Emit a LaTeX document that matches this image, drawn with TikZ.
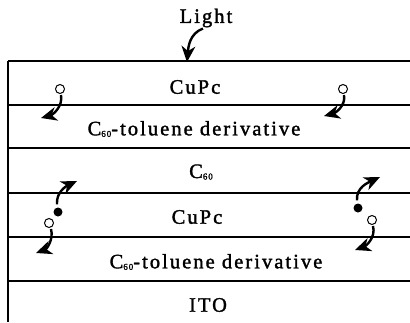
\documentclass[tikz,border=0pt]{standalone}
\usepackage{fontspec}
\setmainfont{Liberation Serif}[FakeBold=1.6]
\newcommand{\subsix}{\raisebox{-1.5pt}{\fontsize{9}{9}\selectfont 60}}
% filled arrow head with its tip at #1, pointing in direction #2 (degrees)
\newcommand{\arrhead}[2]{\fill[shift={(#1)}, rotate=#2] (0,0) -- (-16pt,7pt) -- (-11pt,0pt) -- (-16pt,-7pt) -- cycle;}
\begin{document}
\begin{tikzpicture}[x=1pt,y=-1pt,
  layer/.style={line width=1.8pt},
  lbl/.style={font=\fontsize{20.5}{22}\selectfont\addfontfeatures{LetterSpace=10}, inner sep=0pt},
  hole/.style={circle, draw, line width=1pt, fill=white, minimum size=9pt, inner sep=0pt},
  elec/.style={circle, fill=black, minimum size=9pt, inner sep=0pt},
  flow/.style={line width=2.4pt, shorten >=10pt}]
\useasboundingbox (0,0) rectangle (410,322);
% stack of layers
\draw[layer] (8,61) -- (8,322);
\foreach \yy in {61,105,148,193,237,281}
  \draw[layer] (8,\yy) -- (410,\yy);
% layer names
\node[lbl] (light) at (206,18) {Light};
\node[lbl] (cupc1) at (195,87) {CuPc};
\node[lbl] (ctd1) at (194,129) {C\subsix-toluene derivative};
\node[lbl] (c60) at (201,172) {C\subsix};
\node[lbl] (cupc2) at (197,217) {CuPc};
\node[lbl] (ctd2) at (216,262) {C\subsix-toluene derivative};
\node[lbl] (ito) at (208,305) {ITO};
% incident light
\coordinate (lt) at (187,62);
\draw[flow] (light.south) ++(-3,1) to[out=200,in=85] (lt);
\arrhead{lt}{265}
% carriers in the top CuPc layer
\node[hole] (h1) at (60,89) {};
\node[hole] (h2) at (343,89) {};
\coordinate (a1) at (41,118);
\coordinate (a2) at (324,116);
\draw[flow] (h1.south) ++(1,1) to[out=-80,in=15] (a1);
\draw[flow] (h2.south) ++(1,1) to[out=-80,in=15] (a2);
\arrhead{a1}{195}
\arrhead{a2}{195}
% carriers in the lower CuPc layer
\node[elec] (e3) at (58,212) {};
\node[hole] (h3) at (49,223) {};
\node[elec] (e4) at (358,208) {};
\node[hole] (h4) at (372,220) {};
\coordinate (a3) at (77,181);
\coordinate (a4) at (36,253);
\coordinate (a5) at (380,177);
\coordinate (a6) at (355,250);
\draw[flow] (e3.north) ++(-1,-3) to[out=95,in=205] (a3);
\draw[flow] (h3.south) ++(2,1) to[out=-75,in=20] (a4);
\draw[flow] (e4.north) ++(-1,-3) to[out=95,in=205] (a5);
\draw[flow] (h4.south) ++(1,1) to[out=-75,in=20] (a6);
\arrhead{a3}{25}
\arrhead{a4}{200}
\arrhead{a5}{25}
\arrhead{a6}{200}
\end{tikzpicture}
\end{document}
